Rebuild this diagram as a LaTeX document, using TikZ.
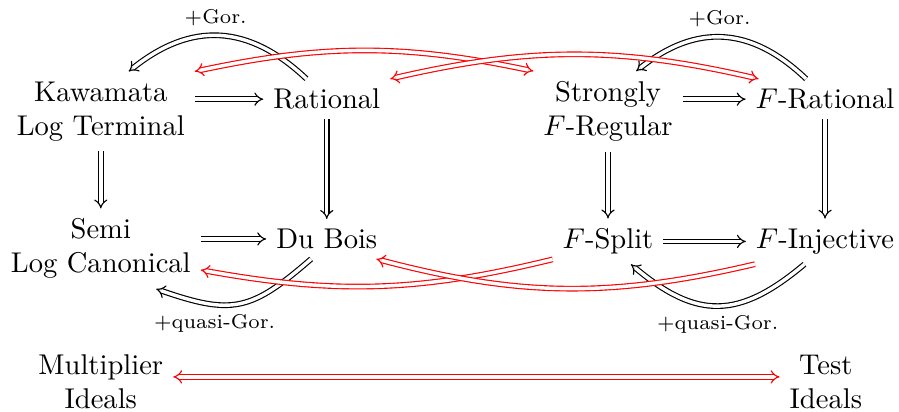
\documentclass[tikz,border=0pt]{standalone}
\usepackage{tikz}
\usetikzlibrary{arrows.meta}
\usepackage{amsmath}
\tikzset{
	imp/.style={double, double distance=1.2pt, -{Implies}},
	redimp/.style={imp, draw=red, {Implies}-{Implies}},
	lbl/.style={font=\scriptsize}
}

\begin{document}
\begin{tikzpicture}
	\useasboundingbox (0, 0) rectangle (11.06, 5.06);
	% top row
	\node[align=center] (klt) at (1.24, 3.69) {Kawamata\\Log Terminal};
	\node (rat) at (4.02, 3.84) {Rational};
	\node[align=center] (sfr) at (7.48, 3.69) {Strongly\\$F$-Regular};
	\node (frat) at (10.15, 3.84) {$F$-Rational};
	% middle row
	\node[align=center] (slc) at (1.24, 2.00) {Semi\\Log Canonical};
	\node (db) at (4.02, 2.12) {Du Bois};
	\node (fs) at (7.48, 2.09) {$F$-Split};
	\node (finj) at (10.15, 2.09) {$F$-Injective};
	% bottom row
	\node[align=center] (mult) at (1.24, 0.36) {Multiplier\\Ideals};
	\node[align=center] (test) at (10.16, 0.36) {Test\\Ideals};

	% straight implications
	\draw[imp] (klt.east |- rat) -- (rat);
	\draw[imp] (slc.east |- db) -- (db);
	\draw[imp] (sfr.east |- frat) -- (frat);
	\draw[imp] (fs) -- (finj);
	\draw[imp] (klt) -- (slc);
	\draw[imp] (rat) -- (db);
	\draw[imp] (sfr) -- (fs);
	\draw[imp] (frat) -- (finj);

	% converses
	\draw[imp] (rat.135) to[bend right=41, looseness=1.15] node[lbl, pos=0.52, above] {$+$Gor.} (klt.55);
	\draw[imp] (frat.133) to[bend right=41, looseness=1.15] node[lbl, pos=0.52, above] {$+$Gor.} (sfr.55);
	\draw[imp] (db.232) to[bend left=30, looseness=1.3] node[lbl, pos=0.68, below] {$+$quasi-Gor.} (slc.-36);
	\draw[imp] (finj.228) to[bend left=40, looseness=1.27] node[lbl, pos=0.5, below] {$+$quasi-Gor.} (fs.-45);

	% correspondences
	\draw[redimp] (klt.north east) to[bend left=12] (sfr.north west);
	\draw[redimp] (rat.north east) to[bend left=13] (frat.163);
	\draw[imp, draw=red] (fs.198) to[bend left=12] (slc.-12);
	\draw[imp, draw=red] (finj.198) to[bend left=14] (db.-22);
	\draw[redimp] ([yshift=1.8pt]mult.east) -- ([yshift=1.8pt]test.west);
\end{tikzpicture}
\end{document}
